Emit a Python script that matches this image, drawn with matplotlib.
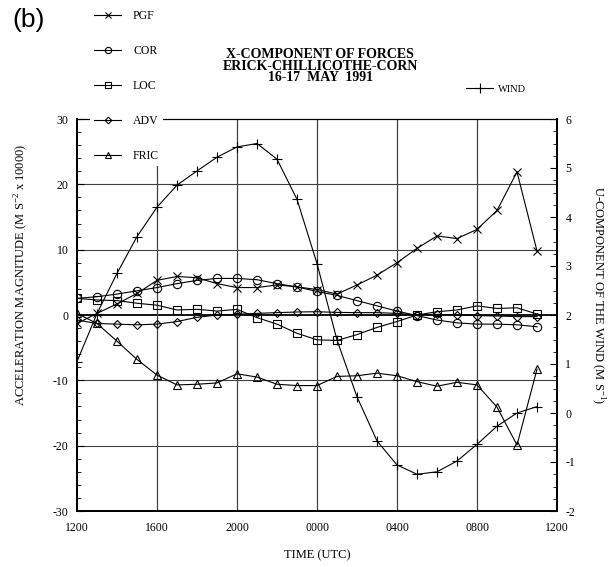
import numpy as np
import matplotlib
matplotlib.use("Agg")
import matplotlib.pyplot as plt
from matplotlib.ticker import MultipleLocator

plt.rcParams['font.family'] = ['Liberation Serif', 'DejaVu Serif']
plt.rcParams['mathtext.fontset'] = 'custom'
plt.rcParams['mathtext.rm'] = 'Liberation Serif'
plt.rcParams['axes.unicode_minus'] = False

# hours after 1200 UTC 16 May
hours = np.arange(24)
tick_pos = [0, 4, 8, 12, 16, 20, 24]
tick_labels = ['1200', '1600', '2000', '0000', '0400', '0800', '1200']

pgf = [-1.3, 0.25, 1.7, 3.3, 5.3, 5.9, 5.7, 4.8, 4.2, 4.2, 4.6, 4.3, 3.9, 3.2,
       4.6, 6.1, 8.0, 10.2, 12.1, 11.7, 13.1, 16.0, 21.9, 9.8]
cor = [2.55, 2.8, 3.2, 3.7, 4.2, 4.8, 5.3, 5.6, 5.6, 5.4, 4.8, 4.3, 3.6, 3.0,
       2.2, 1.4, 0.6, -0.1, -0.77, -1.2, -1.4, -1.4, -1.5, -1.8]
loc = [2.55, 2.3, 2.2, 1.8, 1.5, 0.77, 0.87, 0.6, 0.87, -0.4, -1.4, -2.8, -3.8, -3.9,
       -3.0, -1.9, -1.0, 0.0, 0.5, 0.77, 1.4, 1.0, 1.1, 0.15]
adv = [-0.77, -1.3, -1.4, -1.5, -1.4, -1.0, -0.36, 0.0, 0.1, 0.25, 0.36, 0.46, 0.5, 0.4,
       0.36, 0.36, 0.25, 0.0, 0.1, 0.0, -0.1, -0.15, -0.25, -0.25]
fric = [0.25, -1.3, -4.0, -6.8, -9.2, -10.7, -10.6, -10.4, -9.0, -9.5, -10.6, -10.8, -10.8, -9.4,
        -9.3, -8.9, -9.3, -10.2, -10.9, -10.3, -10.7, -14.1, -19.9, -8.3]
wind = [1.05, 2.03, 2.85, 3.6, 4.2, 4.65, 4.94, 5.22, 5.43, 5.5, 5.18, 4.36, 3.05, 1.49,
        0.33, -0.57, -1.06, -1.25, -1.2, -0.98, -0.64, -0.27, 0.0, 0.13]

W, H = 615, 567
fig = plt.figure(figsize=(W / 100, H / 100), dpi=100)
ax = fig.add_axes([77 / W, 1 - 511 / H, 480 / W, 392 / H])
ax2 = ax.twinx()

lw = 0.8
ms = 6
common = dict(color='black', lw=lw, mfc='none', mec='black', mew=0.8, ms=ms)
h1, = ax.plot(hours, pgf, marker='x', label='PGF', **common)
h2, = ax.plot(hours, cor, marker='o', label='COR', **common)
h3, = ax.plot(hours, loc, marker='s', label='LOC', **common)
h4, = ax.plot(hours, adv, marker='D', label='ADV', **dict(common, ms=4.5))
h5, = ax.plot(hours, fric, marker='^', label='FRIC', **common)
h6, = ax2.plot(hours, wind, marker='+', label='WIND', **dict(common, ms=7.5))

ax.set_xlim(0, 24)
ax.set_ylim(-30, 30)
ax2.set_ylim(-2, 6)
ax.set_xticks(tick_pos)
ax.set_xticklabels(tick_labels)
ax.set_yticks(np.arange(-30, 31, 10))
ax.yaxis.set_minor_locator(MultipleLocator(2))
ax2.set_yticks(np.arange(-2, 7, 1))
ax2.yaxis.set_minor_locator(MultipleLocator(0.25))

for a in (ax, ax2):
    a.tick_params(axis='both', which='major', direction='in', length=5, width=0.8,
                  labelsize=8.5, pad=6)
    a.tick_params(axis='both', which='minor', direction='in', length=3, width=0.6)
ax.tick_params(axis='x', length=0, pad=8)

for s in ['left', 'bottom', 'right']:
    ax.spines[s].set_linewidth(1.4)
    ax2.spines[s].set_linewidth(1.4)
ax.spines['top'].set_linewidth(0.8)
ax2.spines['top'].set_linewidth(0.8)

for yv in (-20, -10, 10, 20):
    ax.axhline(yv, color='0.25', lw=0.8, zorder=0)
ax.axhline(0, color='black', lw=1.3, zorder=0)
for xv in (4, 8, 12, 16, 20):
    ax.axvline(xv, color='0.25', lw=0.9, zorder=0)

ax.set_xlabel('TIME (UTC)', fontsize=9, labelpad=11)
ax.set_ylabel('ACCELERATION MAGNITUDE (M S$^{-2}$ x 10000)', fontsize=9, va='center')
ax.yaxis.set_label_coords(-0.117, 0.602)
ax2.set_ylabel('U-COMPONENT OF THE WIND (M S$^{-1}$)', fontsize=9, rotation=270,
               va='center')
ax2.yaxis.set_label_coords(1.085, 0.551)

fig.text(320 / W, 1 - 66 / H, 'X-COMPONENT OF FORCES\nERICK-CHILLICOTHE-CORN\n16-17  MAY  1991',
         ha='center', va='center', fontsize=10, fontweight='bold', linespacing=0.88)
fig.text(12 / W, 1 - 20 / H, '(b)', ha='left', va='center', fontsize=19,
         family=['Liberation Sans', 'DejaVu Sans'])

leg = fig.legend(handles=[h1, h2, h3, h4, h5], loc='upper left',
                 bbox_to_anchor=(90 / W, 1 - 6 / H), frameon=True, fontsize=8.5,
                 handlelength=2.3, handletextpad=1.0, labelspacing=1.95,
                 borderpad=0.35, borderaxespad=0, markerscale=0.75)
leg.get_frame().set_facecolor('white')
leg.get_frame().set_edgecolor('none')
leg.get_frame().set_alpha(1)

leg2 = fig.legend(handles=[h6], loc='center left', bbox_to_anchor=(462 / W, 1 - 89 / H),
                  frameon=False, fontsize=7.5, handlelength=2.6, handletextpad=0.5,
                  borderaxespad=0)

fig.savefig('out.png', dpi=100)
